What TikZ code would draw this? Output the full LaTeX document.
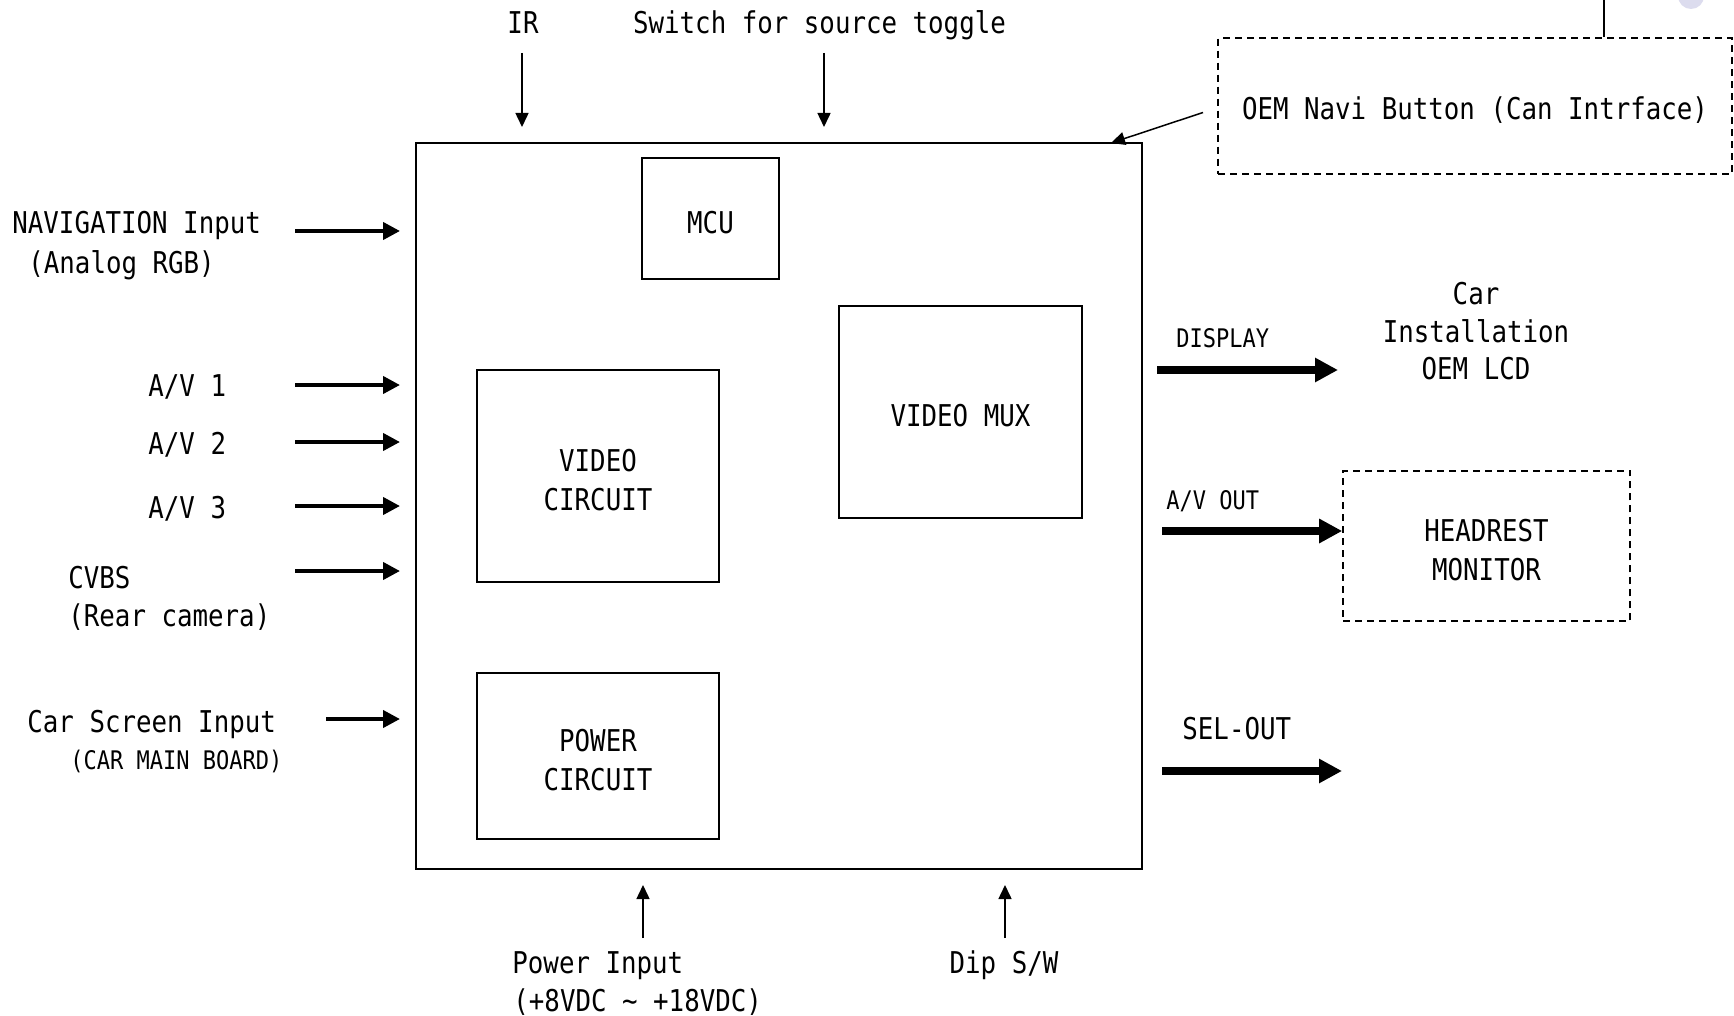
\documentclass[tikz,border=0pt]{standalone}
\usepackage{fontspec}
\usetikzlibrary{arrows.meta}
\newfontfamily\monof[FakeStretch=0.86]{DejaVu Sans Mono}
\begin{document}
\begin{tikzpicture}[x=0.5pt,y=-0.5pt,
  txt/.style={font=\monof\fontsize{15pt}{19.5pt}\selectfont, inner sep=0pt},
  smalltxt/.style={font=\monof\fontsize{12.8pt}{16pt}\selectfont, inner sep=0pt},
  intxt/.style={font=\monof\fontsize{15pt}{19.5pt}\selectfont, inner sep=0pt, align=center, yshift=-2pt},
  blk/.style={draw, line width=1pt, inner sep=0pt},
  dbox/.style={draw, line width=0.8pt, dash pattern=on 3.5pt off 2.5pt, inner sep=0pt},
  inarr/.style={line width=2pt, -{Triangle[length=8.5pt,width=8.5pt]}},
  outarr/.style={line width=4pt, -{Triangle[length=11.5pt,width=11.5pt]}},
  thinarr/.style={line width=0.75pt, -{Triangle[length=7pt,width=6.5pt]}}]
\clip (0,0) rectangle (1734,1016);
\fill[white] (0,0) rectangle (1734,1016);
\fill[color={rgb,255:red,220;green,220;blue,238}] (1691,-4) circle[radius=6.5pt];

% main blocks
\node[blk, minimum width=363pt, minimum height=363pt] (main) at (779,506) {};
\node[blk, minimum width=68.5pt, minimum height=60.5pt] (mcu) at (710.5,218.5) {};
\node[intxt] (mcut) at (mcu) {MCU};
\node[blk, minimum width=121.5pt, minimum height=106pt] (mux) at (960.5,412) {};
\node[intxt] (muxt) at (mux) {VIDEO MUX};
\node[blk, minimum width=121pt, minimum height=105.75pt] (vc) at (598,476) {};
\node[intxt] (vct) at (vc) {VIDEO\\CIRCUIT};
\node[blk, minimum width=121pt, minimum height=83pt] (pc) at (598,756) {};
\node[intxt] (pct) at (pc) {POWER\\CIRCUIT};

% dashed external boxes
\node[dbox, minimum width=257pt, minimum height=67.75pt] (oem) at (1475,106) {};
\node[intxt] (oemt) at (oem) {OEM Navi Button (Can Intrface)};
\node[dbox, minimum width=143.5pt, minimum height=75.25pt] (hm) at (1486.5,546) {};
\node[intxt] (hmt) at (hm) {HEADREST\\MONITOR};
\coordinate (topline) at (1604,0);
\draw[line width=0.9pt] (topline) -- (topline |- oem.north);

% top labels and arrows
\node[txt, anchor=base] (ir) at (523,34) {IR};
\node[txt, anchor=base] (sw) at (819.5,34) {Switch for source toggle};
\coordinate (irS) at (522,53); \coordinate (irE) at (522,127);
\coordinate (swS) at (824,53); \coordinate (swE) at (824,127);
\draw[thinarr] (irS) -- (irE);
\draw[thinarr] (swS) -- (swE);
\coordinate (oemS) at (1203,112.5); \coordinate (oemE) at (1111,143);
\draw[thinarr] (oemS) -- (oemE);

% left inputs
\node[txt, anchor=base west] (nav1) at (12,234) {NAVIGATION Input};
\node[txt, anchor=base west] (nav2) at (28,273) {(Analog RGB)};
\node[txt, anchor=base west] (av1) at (148,396) {A/V 1};
\node[txt, anchor=base west] (av2) at (148,454) {A/V 2};
\node[txt, anchor=base west] (av3) at (148,518) {A/V 3};
\node[txt, anchor=base west] (cv1) at (68,588) {CVBS};
\node[txt, anchor=base west] (cv2) at (68,626) {(Rear camera)};
\node[txt, anchor=base west] (cs1) at (27,732) {Car Screen Input};
\node[smalltxt, anchor=base west] (cs2) at (70,769.5) {(CAR MAIN BOARD)};

\coordinate (navS) at (295,231); \coordinate (navE) at (400,231);
\coordinate (a1S) at (295,385); \coordinate (a1E) at (400,385);
\coordinate (a2S) at (295,442); \coordinate (a2E) at (400,442);
\coordinate (a3S) at (295,506); \coordinate (a3E) at (400,506);
\coordinate (cvS) at (295,571); \coordinate (cvE) at (400,571);
\coordinate (csS) at (326,719); \coordinate (csE) at (400,719);
\draw[inarr] (navS) -- (navE);
\draw[inarr] (a1S) -- (a1E);
\draw[inarr] (a2S) -- (a2E);
\draw[inarr] (a3S) -- (a3E);
\draw[inarr] (cvS) -- (cvE);
\draw[inarr] (csS) -- (csE);

% right outputs
\node[smalltxt, anchor=base west] (disp) at (1176,347.3) {DISPLAY};
\node[txt, anchor=base] (lcd1) at (1476,304) {Car};
\node[txt, anchor=base] (lcd2) at (1476,342) {Installation};
\node[txt, anchor=base] (lcd3) at (1476,379.5) {OEM LCD};
\node[smalltxt, anchor=base west] (avo) at (1166,509.3) {A/V OUT};
\node[txt, anchor=base west] (sel) at (1182,739) {SEL-OUT};

\coordinate (dS) at (1157,370); \coordinate (dE) at (1338,370);
\coordinate (avS) at (1162,531);
\coordinate (sS) at (1162,771); \coordinate (sE) at (1342,771);
\draw[outarr] (dS) -- (dE);
\draw[outarr] (avS) -- (avS -| hm.west);
\draw[outarr] (sS) -- (sE);

% bottom inputs
\node[txt, anchor=base west] (pw1) at (512,973) {Power Input};
\node[txt, anchor=base west] (pw2) at (513,1011) {(+8VDC \textasciitilde{} +18VDC)};
\node[txt, anchor=base] (dip) at (1004,973) {Dip S/W};
\coordinate (pS) at (643,938); \coordinate (pE) at (643,885);
\coordinate (dpS) at (1005,938); \coordinate (dpE) at (1005,885);
\draw[thinarr] (pS) -- (pE);
\draw[thinarr] (dpS) -- (dpE);
\end{tikzpicture}
\end{document}
